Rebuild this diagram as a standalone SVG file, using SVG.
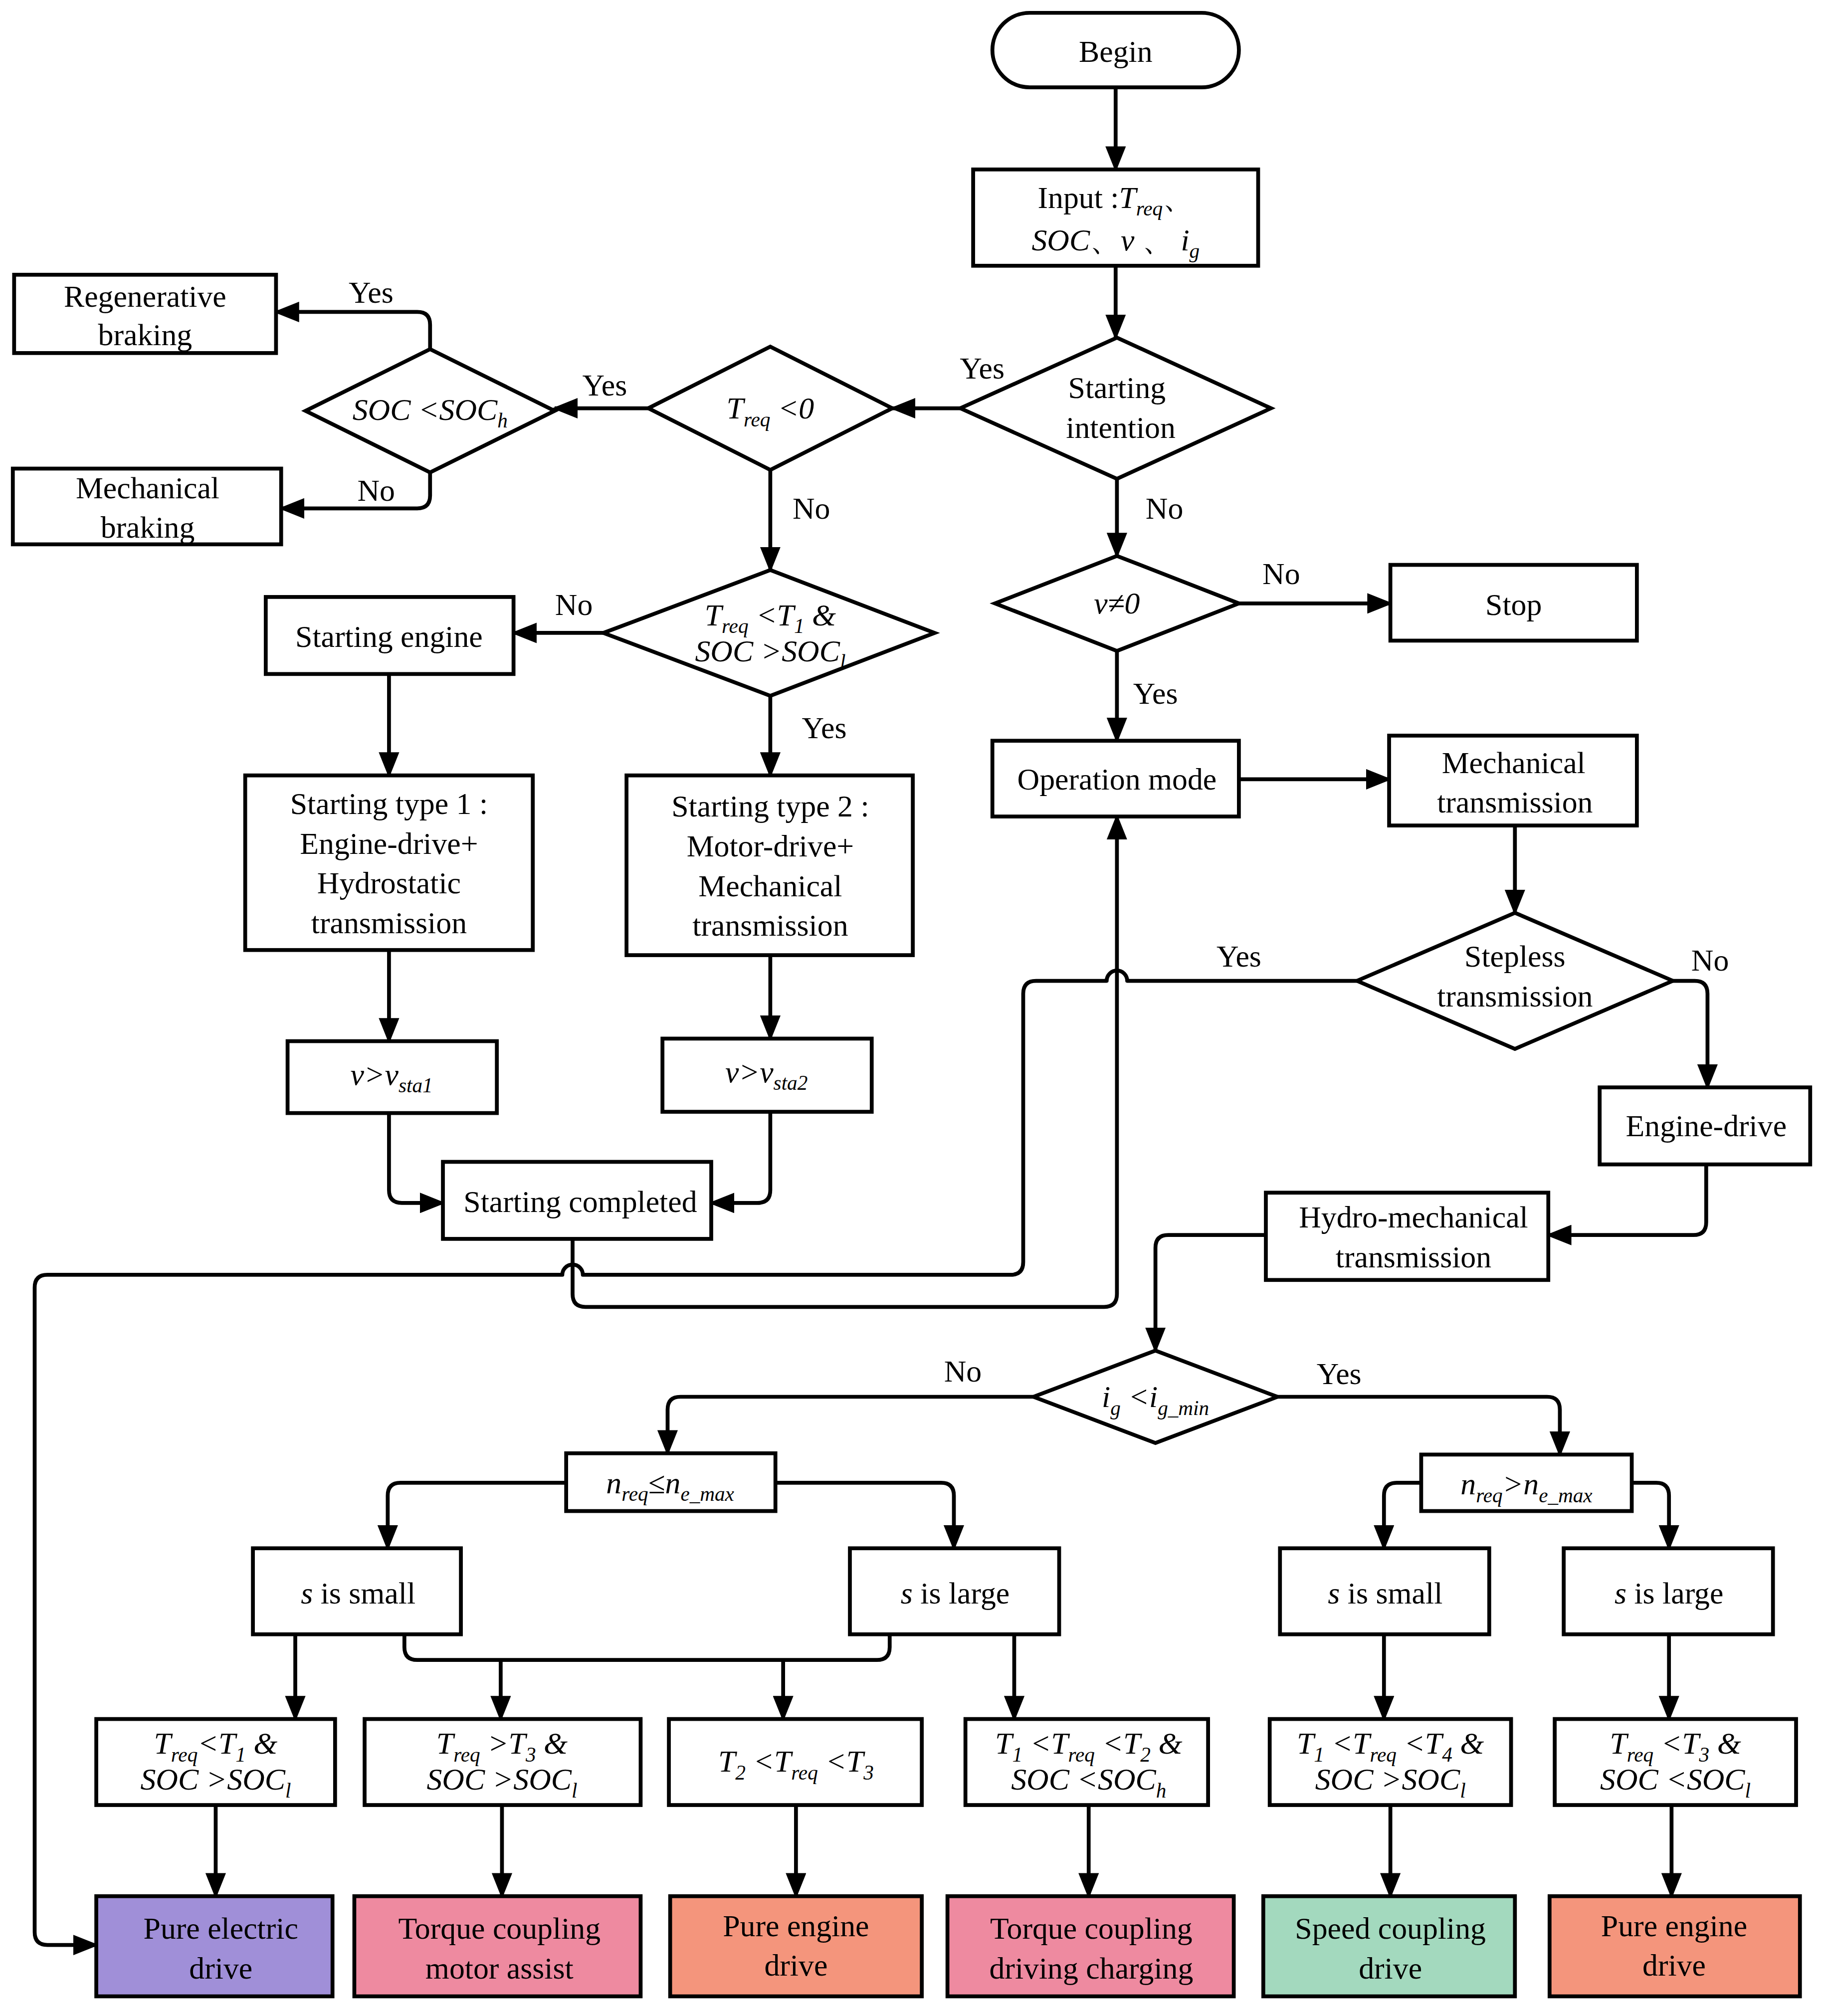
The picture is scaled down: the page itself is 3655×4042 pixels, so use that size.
<svg xmlns="http://www.w3.org/2000/svg" width="3655" height="4042" viewBox="0 0 3655 4042">
<style>
.b{fill:#fff;stroke:#000;stroke-width:3}
.t{font-family:"Liberation Serif",serif;font-size:24px;text-anchor:middle;fill:#000}
.i{font-style:italic}
.s{font-size:16px}
.c{fill:none;stroke:#000;stroke-width:3;stroke-linejoin:round}
.a{marker-end:url(#ar)}
</style>
<defs><marker id="ar" markerUnits="userSpaceOnUse" markerWidth="20" markerHeight="16" refX="18" refY="8" orient="auto"><path d="M0,0L20,8L0,16z" fill="#000"/></marker></defs>
<rect width="3655" height="4042" fill="#fff"/>
<g transform="scale(2.574)">
<g id="connectors">
<path class="c a" d="M869,68V132"/>
<path class="c a" d="M869,207V263"/>
<path class="c a" d="M748,318H695"/>
<path class="c a" d="M505,318H432"/>
<path class="c a" d="M335,272V253Q335,243 325,243H215"/>
<path class="c a" d="M335,368V386Q335,396 325,396H219"/>
<path class="c a" d="M600,366V444"/>
<path class="c a" d="M870,373V433"/>
<path class="c a" d="M965,470H1083"/>
<path class="c a" d="M870,507V577"/>
<path class="c a" d="M470,493H400"/>
<path class="c a" d="M600,542V604"/>
<path class="c a" d="M303,525V604"/>
<path class="c a" d="M303,740V811"/>
<path class="c a" d="M600,744V809"/>
<path class="c a" d="M303,867V927Q303,937 313,937H345"/>
<path class="c a" d="M600,866V927Q600,937 590,937H554"/>
<path class="c a" d="M965,607H1082"/>
<path class="c a" d="M1180,643V711"/>
<path class="c a" d="M446,965V1008Q446,1018 456,1018H860Q870,1018 870,1008V636"/>
<path class="c a" d="M1057,764H878A8,8 0 0 0 862,764H807Q797,764 797,774V983Q797,993 787,993H454A8,8 0 0 0 438,993H37Q27,993 27,1003V1505Q27,1515 37,1515H75"/>
<path class="c a" d="M1303,764H1320Q1330,764 1330,774V847"/>
<path class="c a" d="M1329,907V952Q1329,962 1319,962H1206"/>
<path class="c a" d="M986,962H910Q900,962 900,972V1052"/>
<path class="c a" d="M805,1088H530Q520,1088 520,1098V1132"/>
<path class="c a" d="M995,1088H1205Q1215,1088 1215,1098V1133"/>
<path class="c a" d="M441,1155H312Q302,1155 302,1165V1206"/>
<path class="c a" d="M604,1155H733Q743,1155 743,1165V1206"/>
<path class="c a" d="M1107,1155H1088Q1078,1155 1078,1165V1206"/>
<path class="c a" d="M1271,1155H1290Q1300,1155 1300,1165V1206"/>
<path class="c a" d="M230,1273V1339"/>
<path class="c" d="M315,1273V1283Q315,1293 325,1293H683Q693,1293 693,1283V1273"/>
<path class="c a" d="M390,1293V1339"/>
<path class="c a" d="M610,1293V1339"/>
<path class="c a" d="M790,1273V1339"/>
<path class="c a" d="M1078,1273V1339"/>
<path class="c a" d="M1300,1273V1339"/>
<path class="c a" d="M168,1406V1477"/>
<path class="c a" d="M391,1406V1477"/>
<path class="c a" d="M620,1406V1477"/>
<path class="c a" d="M848,1406V1477"/>
<path class="c a" d="M1083,1406V1477"/>
<path class="c a" d="M1302,1406V1477"/>
<g class="t">
<text x="765" y="295">Yes</text><text x="471" y="308">Yes</text><text x="289" y="236">Yes</text><text x="293" y="390">No</text>
<text x="632" y="404">No</text><text x="907" y="404">No</text><text x="998" y="455">No</text><text x="900" y="548">Yes</text>
<text x="447" y="479">No</text><text x="642" y="575">Yes</text><text x="965" y="753">Yes</text><text x="1332" y="756">No</text>
<text x="750" y="1076">No</text><text x="1043" y="1078">Yes</text>
</g>
</g>
<g id="begin"><rect class="b" x="773" y="10" width="192" height="58" rx="29"/><text class="t" x="869" y="48">Begin</text></g>
<g id="input"><rect class="b" x="758" y="132" width="222" height="75"/>
<text class="t" x="869" y="162">Input :<tspan class="i">T</tspan><tspan class="i s" dy="6">req</tspan><tspan dy="-6">、</tspan></text>
<text class="t" x="869" y="195"><tspan class="i">SOC</tspan>、<tspan class="i">v</tspan> 、 <tspan class="i">i</tspan><tspan class="i s" dy="6">g</tspan></text></g>
<g id="start-intention"><path class="b" d="M748,318L870,263L990,318L870,373Z"/><text class="t" x="870" y="310">Starting</text><text class="t" x="873" y="341">intention</text></g>
<g id="treq0"><path class="b" d="M505,318L600,270L695,318L600,366Z"/><text class="t i" x="600" y="326">T<tspan class="s" dy="6">req</tspan><tspan dy="-6"> &lt;0</tspan></text></g>
<g id="soc-h"><path class="b" d="M238,320L335,272L432,320L335,368Z"/><text class="t i" x="335" y="327">SOC &lt;SOC<tspan class="s" dy="6">h</tspan></text></g>
<g id="regen"><rect class="b" x="11" y="214" width="204" height="61"/><text class="t" x="113" y="239">Regenerative</text><text class="t" x="113" y="269">braking</text></g>
<g id="mech-brake"><rect class="b" x="10" y="365" width="209" height="59"/><text class="t" x="115" y="388">Mechanical</text><text class="t" x="115" y="419">braking</text></g>
<g id="v0"><path class="b" d="M775,470L870,433L965,470L870,507Z"/><text class="t i" x="870" y="478">v≠0</text></g>
<g id="stop"><rect class="b" x="1083" y="440" width="192" height="59"/><text class="t" x="1179" y="479">Stop</text></g>
<g id="tcond"><path class="b" d="M470,493L600,444L728,493L600,542Z"/><text class="t i" x="600" y="487">T<tspan class="s" dy="6">req</tspan><tspan dy="-6"> &lt;T</tspan><tspan class="s" dy="6">1</tspan><tspan dy="-6"> &amp;</tspan></text><text class="t i" x="600" y="515">SOC &gt;SOC<tspan class="s" dy="6">l</tspan></text></g>
<g id="start-engine"><rect class="b" x="207" y="465" width="193" height="60"/><text class="t" x="303" y="504">Starting engine</text></g>
<g id="type1"><rect class="b" x="191" y="604" width="224" height="136"/><text class="t" x="303" y="634">Starting type 1 :</text><text class="t" x="303" y="665">Engine-drive+</text><text class="t" x="303" y="696">Hydrostatic</text><text class="t" x="303" y="727">transmission</text></g>
<g id="type2"><rect class="b" x="488" y="604" width="223" height="140"/><text class="t" x="600" y="636">Starting type 2 :</text><text class="t" x="600" y="667">Motor-drive+</text><text class="t" x="600" y="698">Mechanical</text><text class="t" x="600" y="729">transmission</text></g>
<g id="vsta1"><rect class="b" x="224" y="811" width="163" height="56"/><text class="t i" x="305" y="845">v&gt;v<tspan class="s" dy="6">sta1</tspan></text></g>
<g id="vsta2"><rect class="b" x="516" y="809" width="163" height="57"/><text class="t i" x="597" y="843">v&gt;v<tspan class="s" dy="6">sta2</tspan></text></g>
<g id="start-done"><rect class="b" x="345" y="905" width="209" height="60"/><text class="t" x="452" y="944">Starting completed</text></g>
<g id="op-mode"><rect class="b" x="773" y="577" width="192" height="59"/><text class="t" x="870" y="615">Operation mode</text></g>
<g id="mech-trans"><rect class="b" x="1082" y="573" width="193" height="70"/><text class="t" x="1179" y="602">Mechanical</text><text class="t" x="1180" y="633">transmission</text></g>
<g id="stepless"><path class="b" d="M1057,764L1180,711L1303,764L1180,817Z"/><text class="t" x="1180" y="753">Stepless</text><text class="t" x="1180" y="784">transmission</text></g>
<g id="engine-drive"><rect class="b" x="1246" y="847" width="164" height="60"/><text class="t" x="1329" y="885">Engine-drive</text></g>
<g id="hydro"><rect class="b" x="986" y="929" width="220" height="68"/><text class="t" x="1101" y="956">Hydro-mechanical</text><text class="t" x="1101" y="987">transmission</text></g>
<g id="ig"><path class="b" d="M805,1088L900,1052L995,1088L900,1124Z"/><text class="t i" x="900" y="1096">i<tspan class="s" dy="6">g</tspan><tspan dy="-6"> &lt;i</tspan><tspan class="s" dy="6">g_min</tspan></text></g>
<g id="nreq-le"><rect class="b" x="441" y="1132" width="163" height="45"/><text class="t i" x="522" y="1163">n<tspan class="s" dy="6">req</tspan><tspan dy="-6">≤n</tspan><tspan class="s" dy="6">e_max</tspan></text></g>
<g id="nreq-gt"><rect class="b" x="1107" y="1133" width="164" height="44"/><text class="t i" x="1189" y="1164">n<tspan class="s" dy="6">req</tspan><tspan dy="-6">&gt;n</tspan><tspan class="s" dy="6">e_max</tspan></text></g>
<g id="s-small-1"><rect class="b" x="197" y="1206" width="162" height="67"/><text class="t" x="279" y="1249"><tspan class="i">s</tspan> is small</text></g>
<g id="s-large-1"><rect class="b" x="662" y="1206" width="163" height="67"/><text class="t" x="744" y="1249"><tspan class="i">s</tspan> is large</text></g>
<g id="s-small-2"><rect class="b" x="997" y="1206" width="163" height="67"/><text class="t" x="1079" y="1249"><tspan class="i">s</tspan> is small</text></g>
<g id="s-large-2"><rect class="b" x="1218" y="1206" width="163" height="67"/><text class="t" x="1300" y="1249"><tspan class="i">s</tspan> is large</text></g>
<g id="c1"><rect class="b" x="75" y="1339" width="186" height="67"/><text class="t i" x="168" y="1366">T<tspan class="s" dy="6">req</tspan><tspan dy="-6">&lt;T</tspan><tspan class="s" dy="6">1</tspan><tspan dy="-6"> &amp;</tspan></text><text class="t i" x="168" y="1394">SOC &gt;SOC<tspan class="s" dy="6">l</tspan></text></g>
<g id="c2"><rect class="b" x="284" y="1339" width="215" height="67"/><text class="t i" x="391" y="1366">T<tspan class="s" dy="6">req</tspan><tspan dy="-6"> &gt;T</tspan><tspan class="s" dy="6">3</tspan><tspan dy="-6"> &amp;</tspan></text><text class="t i" x="391" y="1394">SOC &gt;SOC<tspan class="s" dy="6">l</tspan></text></g>
<g id="c3"><rect class="b" x="521" y="1339" width="197" height="67"/><text class="t i" x="620" y="1380">T<tspan class="s" dy="6">2</tspan><tspan dy="-6"> &lt;T</tspan><tspan class="s" dy="6">req</tspan><tspan dy="-6"> &lt;T</tspan><tspan class="s" dy="6">3</tspan></text></g>
<g id="c4"><rect class="b" x="752" y="1339" width="189" height="67"/><text class="t i" x="848" y="1366">T<tspan class="s" dy="6">1</tspan><tspan dy="-6"> &lt;T</tspan><tspan class="s" dy="6">req</tspan><tspan dy="-6"> &lt;T</tspan><tspan class="s" dy="6">2</tspan><tspan dy="-6"> &amp;</tspan></text><text class="t i" x="848" y="1394">SOC &lt;SOC<tspan class="s" dy="6">h</tspan></text></g>
<g id="c5"><rect class="b" x="989" y="1339" width="188" height="67"/><text class="t i" x="1083" y="1366">T<tspan class="s" dy="6">1</tspan><tspan dy="-6"> &lt;T</tspan><tspan class="s" dy="6">req</tspan><tspan dy="-6"> &lt;T</tspan><tspan class="s" dy="6">4</tspan><tspan dy="-6"> &amp;</tspan></text><text class="t i" x="1083" y="1394">SOC &gt;SOC<tspan class="s" dy="6">l</tspan></text></g>
<g id="c6"><rect class="b" x="1211" y="1339" width="188" height="67"/><text class="t i" x="1305" y="1366">T<tspan class="s" dy="6">req</tspan><tspan dy="-6"> &lt;T</tspan><tspan class="s" dy="6">3</tspan><tspan dy="-6"> &amp;</tspan></text><text class="t i" x="1305" y="1394">SOC &lt;SOC<tspan class="s" dy="6">l</tspan></text></g>
<g id="o1"><rect class="b" x="75" y="1477" width="184" height="78" style="fill:#a08fd8"/><text class="t" x="172" y="1510">Pure electric</text><text class="t" x="172" y="1541">drive</text></g>
<g id="o2"><rect class="b" x="276" y="1477" width="223" height="78" style="fill:#ee8aa0"/><text class="t" x="389" y="1510">Torque coupling</text><text class="t" x="389" y="1541">motor assist</text></g>
<g id="o3"><rect class="b" x="522" y="1477" width="196" height="78" style="fill:#f4957c"/><text class="t" x="620" y="1508">Pure engine</text><text class="t" x="620" y="1539">drive</text></g>
<g id="o4"><rect class="b" x="738" y="1477" width="223" height="78" style="fill:#ee8aa0"/><text class="t" x="850" y="1510">Torque coupling</text><text class="t" x="850" y="1541">driving charging</text></g>
<g id="o5"><rect class="b" x="984" y="1477" width="196" height="78" style="fill:#a3d9be"/><text class="t" x="1083" y="1510">Speed coupling</text><text class="t" x="1083" y="1541">drive</text></g>
<g id="o6"><rect class="b" x="1207" y="1477" width="195" height="78" style="fill:#f4957c"/><text class="t" x="1304" y="1508">Pure engine</text><text class="t" x="1304" y="1539">drive</text></g>
</g>
</svg>
